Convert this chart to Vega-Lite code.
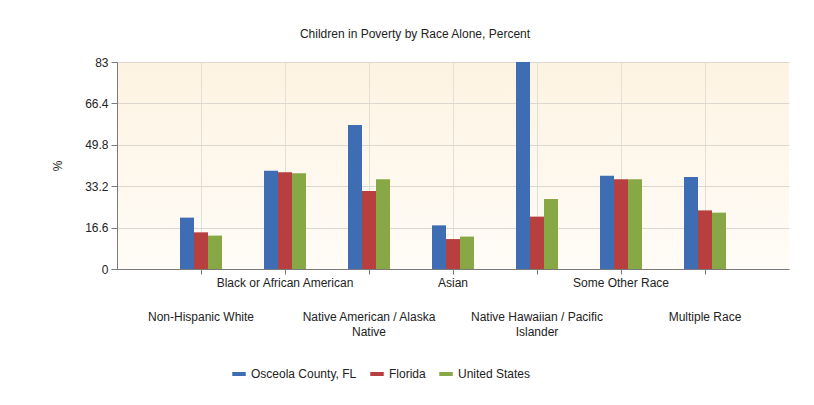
{
  "$schema": "https://vega.github.io/schema/vega-lite/v6.json",
  "width": 672,
  "height": 207,
  "autosize": "none",
  "padding": {"left": 117, "top": 62, "right": 25, "bottom": 136},
  "background": "#ffffff",
  "title": {
    "text": "Children in Poverty by Race Alone, Percent",
    "fontSize": 12,
    "fontWeight": "normal",
    "font": "Liberation Sans",
    "color": "#222222",
    "anchor": "middle",
    "offset": 15,
    "dx": -38
  },
  "data": {
    "values": [
      {"race": "Non-Hispanic White", "region": "Osceola County, FL", "pct": 20.6},
      {"race": "Non-Hispanic White", "region": "Florida", "pct": 14.7},
      {"race": "Non-Hispanic White", "region": "United States", "pct": 13.4},
      {"race": "Black or African American", "region": "Osceola County, FL", "pct": 39.4},
      {"race": "Black or African American", "region": "Florida", "pct": 38.8},
      {"race": "Black or African American", "region": "United States", "pct": 38.4},
      {"race": "Native American / Alaska Native", "region": "Osceola County, FL", "pct": 57.7},
      {"race": "Native American / Alaska Native", "region": "Florida", "pct": 31.3},
      {"race": "Native American / Alaska Native", "region": "United States", "pct": 36.0},
      {"race": "Asian", "region": "Osceola County, FL", "pct": 17.5},
      {"race": "Asian", "region": "Florida", "pct": 12.0},
      {"race": "Asian", "region": "United States", "pct": 13.0},
      {"race": "Native Hawaiian / Pacific Islander", "region": "Osceola County, FL", "pct": 83.0},
      {"race": "Native Hawaiian / Pacific Islander", "region": "Florida", "pct": 21.0},
      {"race": "Native Hawaiian / Pacific Islander", "region": "United States", "pct": 28.1},
      {"race": "Some Other Race", "region": "Osceola County, FL", "pct": 37.4},
      {"race": "Some Other Race", "region": "Florida", "pct": 36.0},
      {"race": "Some Other Race", "region": "United States", "pct": 36.0},
      {"race": "Multiple Race", "region": "Osceola County, FL", "pct": 36.9},
      {"race": "Multiple Race", "region": "Florida", "pct": 23.5},
      {"race": "Multiple Race", "region": "United States", "pct": 22.6}
    ]
  },
  "mark": {"type": "bar", "clip": true},
  "encoding": {
    "x": {
      "field": "race",
      "type": "nominal",
      "sort": null,
      "scale": {"paddingInner": 0.5, "paddingOuter": 0.75},
      "axis": {
        "title": null,
        "labelAngle": 0,
        "grid": true,
        "bandPosition": 0.5,
        "gridColor": "#e3ded6",
        "domainColor": "#7a7a7a",
        "tickColor": "#7a7a7a",
        "tickSize": 5,
        "labelFont": "Liberation Sans",
        "labelFontSize": 12,
        "labelColor": "#222222",
        "labelLimit": 300,
        "labelOverlap": false,
        "labelBaseline": "top",
        "labelLineHeight": 15,
        "labelPadding": {
          "condition": {
            "test": "indexof(['Black or African American','Asian','Some Other Race'], datum.value) >= 0",
            "value": 3
          },
          "value": 37
        },
        "labelExpr": "datum.label == 'Native American / Alaska Native' ? ['Native American / Alaska', 'Native'] : datum.label == 'Native Hawaiian / Pacific Islander' ? ['Native Hawaiian / Pacific', 'Islander'] : datum.label"
      }
    },
    "xOffset": {
      "field": "region",
      "type": "nominal",
      "sort": ["Osceola County, FL", "Florida", "United States"],
      "scale": {"paddingInner": 0, "paddingOuter": 0}
    },
    "y": {
      "field": "pct",
      "type": "quantitative",
      "scale": {"domain": [0, 83], "nice": false},
      "axis": {
        "title": "%",
        "titleFont": "Liberation Sans",
        "titleFontSize": 12,
        "titleFontWeight": "normal",
        "titleColor": "#222222",
        "titlePadding": 20,
        "values": [0, 16.6, 33.2, 49.8, 66.4, 83],
        "format": ".1~f",
        "labelFont": "Liberation Sans",
        "labelFontSize": 12,
        "labelColor": "#222222",
        "labelPadding": 3,
        "tickSize": 6,
        "tickColor": "#7a7a7a",
        "domainColor": "#7a7a7a",
        "gridColor": "#dcd8d0"
      }
    },
    "color": {
      "field": "region",
      "type": "nominal",
      "sort": ["Osceola County, FL", "Florida", "United States"],
      "scale": {
        "domain": ["Osceola County, FL", "Florida", "United States"],
        "range": ["#3e6db3", "#b83f3f", "#88a846"]
      },
      "legend": {
        "title": null,
        "orient": "none",
        "direction": "horizontal",
        "legendX": 116,
        "legendY": 306,
        "symbolType": "M-1.6875,-0.5H1.6875V0.5H-1.6875Z",
        "symbolSize": 64,
        "symbolStrokeWidth": 0,
        "symbolOpacity": 1,
        "labelFont": "Liberation Sans",
        "labelFontSize": 12,
        "labelColor": "#222222",
        "labelOffset": 6,
        "columnPadding": 13
      }
    }
  },
  "config": {
    "view": {
      "stroke": null,
      "fill": {
        "gradient": "linear",
        "x1": 0, "y1": 0, "x2": 0, "y2": 1,
        "stops": [
          {"offset": 0, "color": "#fdf3e2"},
          {"offset": 1, "color": "#fffcf7"}
        ]
      }
    }
  }
}
